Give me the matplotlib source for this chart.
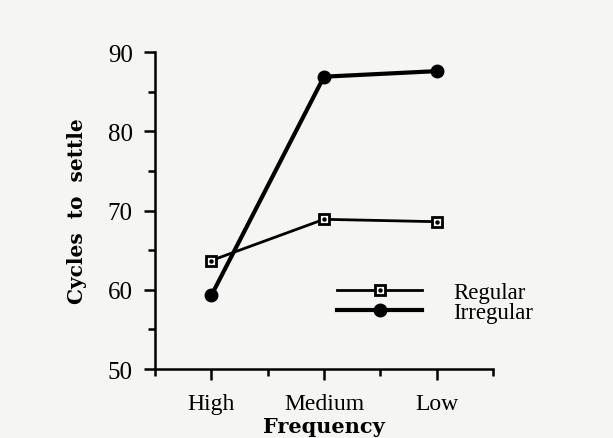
import matplotlib.pyplot as plt
from matplotlib.legend_handler import HandlerTuple

# values
frequency = ["High", "Medium", "Low"]
regular = [63.7, 68.9, 68.6]
irregular = [59.3, 86.9, 87.6]

serif = ["Liberation Serif", "DejaVu Serif"]
bold_serif = ["DejaVu Serif"]
plt.rcParams['font.family'] = serif

fig = plt.figure(figsize=(6.13, 4.39), dpi=100, facecolor="#f5f5f3")
ax = fig.add_axes([0.253, 0.157, 0.551, 0.722])
ax.set_facecolor("none")

x = list(range(1, len(frequency) + 1))

reg_line, = ax.plot(x, regular, color="black", lw=2.0, marker="s", ms=7.5,
                    mfc="white", mec="black", mew=2.0, zorder=3)
reg_dot, = ax.plot(x, regular, ls="none", marker="o", ms=2.2, color="black", zorder=4)
irr_line, = ax.plot(x, irregular, color="black", lw=3.0, marker="o", ms=9,
                    zorder=3)

ax.set_xlim(0.5, 3.5)
ax.set_ylim(50, 90)
ax.set_xticks(x)
ax.set_xticklabels(frequency)
ax.set_xticks([0.5, 1.5, 2.5, 3.5], minor=True)
ax.set_yticks([50, 60, 70, 80, 90])
ax.set_yticks([55, 65, 75, 85], minor=True)

for side in ("top", "right"):
    ax.spines[side].set_visible(False)
for side in ("left", "bottom"):
    ax.spines[side].set_linewidth(1.8)

ax.tick_params(which="major", direction="out", length=8, width=1.8, pad=8)
ax.tick_params(which="minor", direction="out", length=5, width=1.8)
ax.tick_params(axis="y", labelsize=18)
ax.tick_params(axis="x", which="major", labelsize=17, pad=9)

ax.set_ylabel("Cycles  to  settle", fontsize=14.5, fontweight="bold",
              family=bold_serif, labelpad=15)
ax.set_xlabel("Frequency", fontsize=15, fontweight="bold",
              family=bold_serif, labelpad=2)

leg = ax.legend([(reg_line, reg_dot), irr_line], ["Regular", "Irregular"],
                handler_map={tuple: HandlerTuple(ndivide=1)},
                loc="upper left", bbox_to_anchor=(0.505, 0.31),
                frameon=False, fontsize=16.5, handlelength=3.7,
                labelspacing=-0.08, handletextpad=1.35, borderpad=0)

fig.savefig("out.png", dpi=100, facecolor=fig.get_facecolor())
